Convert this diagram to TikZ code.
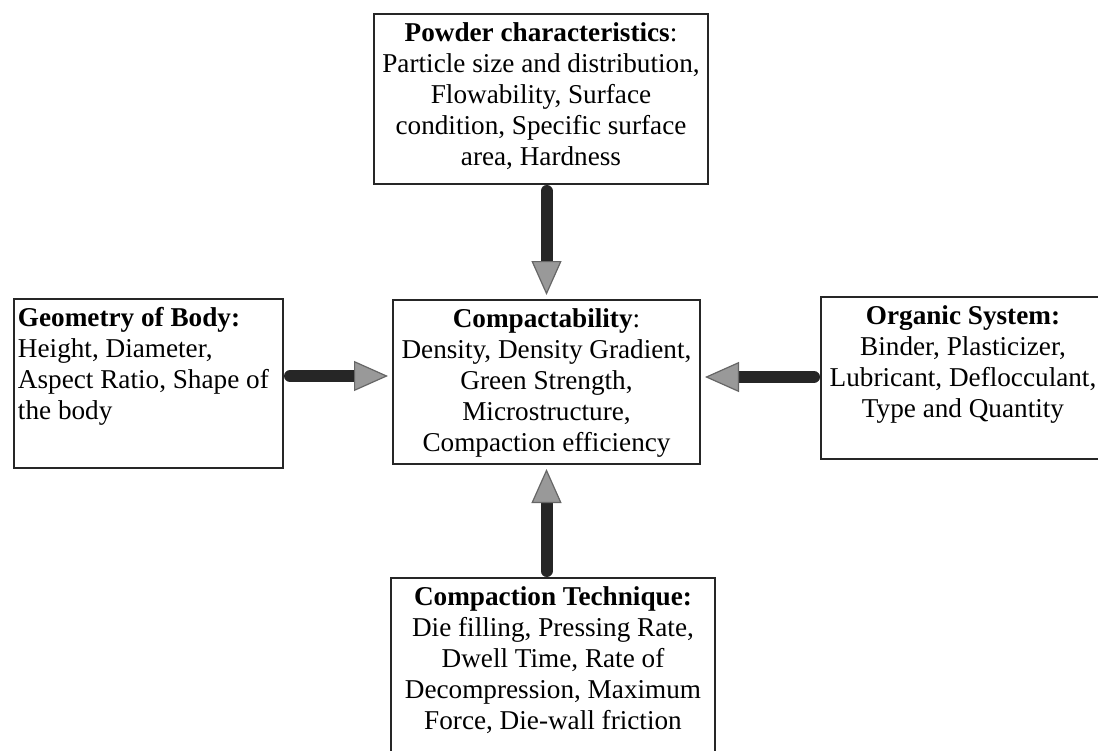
\documentclass[tikz,border=0pt]{standalone}
\usepackage{fontspec}
\setmainfont{Liberation Serif}
\usetikzlibrary{arrows.meta}

\begin{document}
\begin{tikzpicture}[
    x=0.5pt, y=-0.5pt,
    factor/.style = {rectangle, draw=black!85, line width=1pt, align=flush center, font=\fontsize{13.6}{15.5}\selectfont, inner xsep=3pt, inner ysep=4pt, text height=9.5pt},
    flow/.style = {draw=black!85, line width=6pt, line cap=round, shorten <=3pt, shorten >=2pt, -{Triangle[length=17pt, width=15pt, color=black!60, fill=black!40, line width=0.6pt]}}
]
\clip (0,0) rectangle (1098,750);

\node (powder) [factor, anchor=north, text width=161pt, text depth=67.5pt] at (541,13) {\textbf{Powder characteristics}:\\Particle size and distribution,\\Flowability, Surface\\condition, Specific surface\\area, Hardness};
\node (compact) [factor, anchor=north, text width=147.5pt, text depth=64.5pt] at (546.5,299) {\textbf{Compactability}:\\Density, Density Gradient,\\Green Strength,\\Microstructure,\\Compaction efficiency};
\node (geom) [factor, anchor=north west, align=flush left, text width=130.5pt, inner xsep=2pt, text depth=67pt] at (13,298) {\textbf{Geometry of Body:}\\Height, Diameter,\\Aspect Ratio, Shape of\\the body};
\node (organic) [factor, anchor=north, text width=136pt, text depth=63.5pt] at (963,296) {\textbf{Organic System:}\\Binder, Plasticizer,\\Lubricant, Deflocculant,\\Type and Quantity};
\node (technique) [factor, anchor=north, text width=156pt, text depth=100pt] at (553,577) {\textbf{Compaction Technique:}\\Die filling, Pressing Rate,\\Dwell Time, Rate of\\Decompression, Maximum\\Force, Die-wall friction};

\draw [flow] (powder.south -| compact.north) -- (compact.north);
\draw [flow] (geom.east |- 0,376) -- (compact.west |- 0,376);
\draw [flow] (organic.west |- 0,377) -- (compact.east |- 0,377);
\draw [flow] (technique.north -| compact.south) -- (compact.south);
\end{tikzpicture}
\end{document}
